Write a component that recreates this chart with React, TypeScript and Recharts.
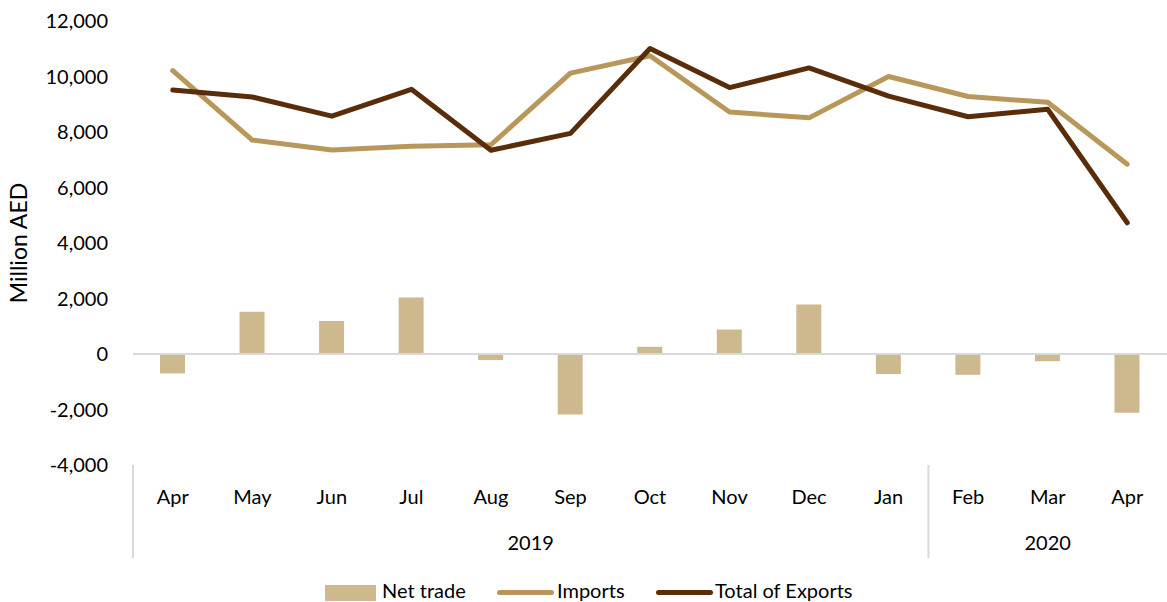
import React from 'react';
import {
  ComposedChart,
  Bar,
  Line,
  XAxis,
  YAxis,
  ReferenceLine,
} from 'recharts';

// --- data ---
const months = ['Apr', 'May', 'Jun', 'Jul', 'Aug', 'Sep', 'Oct', 'Nov', 'Dec', 'Jan', 'Feb', 'Mar', 'Apr'];
const netTrade = [-700, 1520, 1190, 2040, -220, -2180, 260, 880, 1780, -720, -750, -260, -2120];
const imports = [10210, 7710, 7350, 7490, 7540, 10120, 10750, 8720, 8510, 10000, 9280, 9070, 6840];
const totalExports = [9510, 9260, 8570, 9540, 7340, 7950, 11010, 9600, 10310, 9290, 8550, 8820, 4730];
const yTicks = [-4000, -2000, 0, 2000, 4000, 6000, 8000, 10000, 12000];
const yearGroups = [
  { label: '2019', start: 0, end: 9 },
  { label: '2020', start: 10, end: 12 },
];

const data = months.map((m, i) => ({
  key: `${m}-${i}`,
  month: m,
  net: netTrade[i],
  imports: imports[i],
  exports: totalExports[i],
}));

const W = 1167;
const H = 602;
const PLOT_LEFT = 133;
const PLOT_RIGHT = 1167;
const BAND = (PLOT_RIGHT - PLOT_LEFT) / months.length;

const FONT = 'Lato, "Noto Sans", sans-serif';
const BAR_COLOR = '#CDB98D';
const IMPORTS_COLOR = '#B8985A';
const EXPORTS_COLOR = '#5A2D0A';
const SEP_COLOR = '#D9D9D9';

const MonthTick = (props: any) => {
  const { x, y, index } = props;
  const items: React.ReactNode[] = [];
  items.push(
    <text key="m" x={x} y={y + 39} textAnchor="middle" fontSize={20} fill="#000" fontFamily={FONT}>
      {months[index]}
    </text>
  );
  yearGroups.forEach((g) => {
    if (index === g.start) {
      items.push(
        <line key={`s${g.label}`} x1={x - BAND / 2} x2={x - BAND / 2} y1={y} y2={y + 93} stroke={SEP_COLOR} strokeWidth={2} />
      );
    }
    const mid = (g.start + g.end) / 2;
    if (index === Math.floor(mid)) {
      items.push(
        <text
          key={`y${g.label}`}
          x={x + (mid - Math.floor(mid)) * BAND}
          y={y + 85}
          textAnchor="middle"
          fontSize={20}
          fill="#000"
          fontFamily={FONT}
        >
          {g.label}
        </text>
      );
    }
  });
  return <g>{items}</g>;
};

// legend drawn as plain html under the chart, like the original
const ChartLegend = () => (
  <div style={{ position: 'absolute', left: 0, top: 578, width: W, height: 24, fontFamily: FONT, fontSize: 20, color: '#000' }}>
    <div style={{ position: 'absolute', left: 325, top: 7, width: 51, height: 16, background: BAR_COLOR }} />
    <span style={{ position: 'absolute', left: 382, top: 1, lineHeight: '22px' }}>Net trade</span>
    <div style={{ position: 'absolute', left: 497, top: 12, width: 57, height: 5, borderRadius: 3, background: IMPORTS_COLOR }} />
    <span style={{ position: 'absolute', left: 557, top: 1, lineHeight: '22px' }}>Imports</span>
    <div style={{ position: 'absolute', left: 656, top: 12, width: 57, height: 5, borderRadius: 3, background: EXPORTS_COLOR }} />
    <span style={{ position: 'absolute', left: 715, top: 1, lineHeight: '22px' }}>Total of Exports</span>
  </div>
);

const App: React.FC = () => {
  return (
    <div style={{ position: 'absolute', left: 0, top: 0, width: W, height: H, overflow: 'hidden', background: '#fff' }}>
      <ComposedChart width={W} height={H} data={data} margin={{ top: 21, right: W - PLOT_RIGHT, bottom: 0, left: 0 }}>
        <XAxis
          dataKey="key"
          axisLine={false}
          tickLine={false}
          tickSize={0}
          tickMargin={0}
          interval={0}
          tick={<MonthTick />}
          height={137}
        />
        <YAxis
          domain={[-4000, 12000]}
          ticks={yTicks}
          width={PLOT_LEFT}
          axisLine={false}
          tickLine={false}
          tickSize={0}
          tickMargin={25}
          tick={{ fontSize: 20, fill: '#000', fontFamily: FONT }}
          tickFormatter={(v: number) => v.toLocaleString('en-US')}
          label={{
            value: 'Million AED',
            angle: -90,
            position: 'insideLeft',
            offset: 19,
            style: { textAnchor: 'middle', fontSize: 23, fill: '#000', fontFamily: FONT },
          }}
        />
        <ReferenceLine y={0} stroke={SEP_COLOR} strokeWidth={2} />
        <Bar dataKey="net" name="Net trade" fill={BAR_COLOR} barSize={25} isAnimationActive={false} />
        <Line
          type="linear"
          dataKey="imports"
          name="Imports"
          stroke={IMPORTS_COLOR}
          strokeWidth={5}
          strokeLinecap="round"
          strokeLinejoin="round"
          dot={false}
          activeDot={false}
          isAnimationActive={false}
        />
        <Line
          type="linear"
          dataKey="exports"
          name="Total of Exports"
          stroke={EXPORTS_COLOR}
          strokeWidth={5}
          strokeLinecap="round"
          strokeLinejoin="round"
          dot={false}
          activeDot={false}
          isAnimationActive={false}
        />
      </ComposedChart>
      <ChartLegend />
    </div>
  );
};

export default App;
